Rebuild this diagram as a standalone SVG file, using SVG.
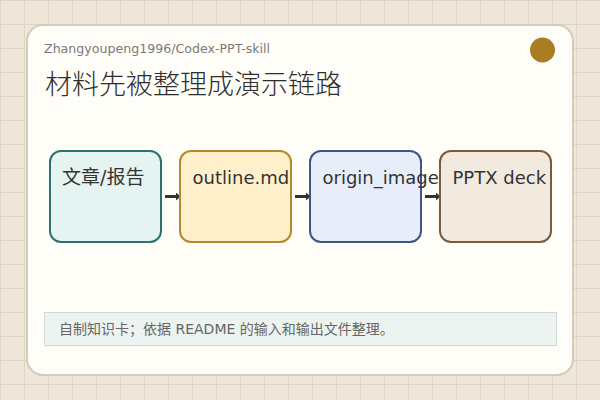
<svg xmlns="http://www.w3.org/2000/svg" width="600" height="400" viewBox="0 0 600 400">
  <defs>
    <pattern id="grid" width="24" height="24" patternUnits="userSpaceOnUse">
      <rect width="24" height="24" fill="#efe8da"/>
      <path d="M0 0.5H24M0.5 0V24" stroke="#e0d6c4" stroke-width="1" fill="none"/>
    </pattern>
    <marker id="arrow" markerUnits="userSpaceOnUse" markerWidth="6" markerHeight="10" refX="0" refY="4" orient="auto">
      <path d="M0 0L4.5 4L0 8Z" fill="#333333"/>
    </marker>
  </defs>
  <style>
    .sans { font-family: "DejaVu Sans", "Noto Sans CJK SC", sans-serif; }
    .node-box { stroke-width: 2; }
    .label { font-size: 18px; fill: #333333; }
    .label-cjk { font-size: 19px; }
    .conn { stroke: #333333; stroke-width: 3; fill: none; }
  </style>
  <rect width="600" height="400" fill="url(#grid)"/>
  <g id="card">
    <rect x="27" y="26" width="546" height="350" rx="16" fill="#d8ccb9" opacity="0.6"/>
    <rect x="27" y="25" width="546" height="350" rx="16" fill="#fffdf8" stroke="#d6cab8" stroke-width="2"/>
    <circle cx="542.5" cy="50" r="12.5" fill="#ab7d22"/>
    <text class="sans" x="44" y="53" font-size="12.6" fill="#7a7a7a">Zhangyoupeng1996/Codex-PPT-skill</text>
    <text class="sans" x="45" y="94" font-size="27" font-weight="300" fill="#2e2e2e">材料先被整理成演示链路</text>
  </g>
  <g id="connectors">
    <path class="conn" d="M165 196.5H176" marker-end="url(#arrow)"/>
    <path class="conn" d="M295 196.5H306" marker-end="url(#arrow)"/>
    <path class="conn" d="M425 196.5H436" marker-end="url(#arrow)"/>
  </g>
  <g id="node-source">
    <rect class="node-box" x="50" y="151" width="111" height="91" rx="11" fill="#e5f4f1" stroke="#2a7370"/>
    <text class="sans label label-cjk" x="62" y="184">文章/报告</text>
  </g>
  <g id="node-outline">
    <rect class="node-box" x="180" y="151" width="111" height="91" rx="11" fill="#fff0cb" stroke="#b08a2c"/>
    <text class="sans label" x="192.5" y="184">outline.md</text>
  </g>
  <g id="node-origin">
    <rect class="node-box" x="310" y="151" width="111" height="91" rx="11" fill="#e8edfa" stroke="#3f5489"/>
    <text class="sans label" x="322.5" y="184">origin_image</text>
  </g>
  <g id="node-pptx">
    <rect class="node-box" x="440" y="151" width="111" height="91" rx="11" fill="#f2eadf" stroke="#7a5b3e"/>
    <text class="sans label" x="452.5" y="184">PPTX deck</text>
  </g>
  <g id="footer">
    <rect x="44.5" y="312.5" width="512" height="33" fill="#edf3f0" stroke="#d2d9d5" stroke-width="1"/>
    <text class="sans" x="59" y="333.5" font-size="14" fill="#666666">自制知识卡；依据 README 的输入和输出文件整理。</text>
  </g>
</svg>
